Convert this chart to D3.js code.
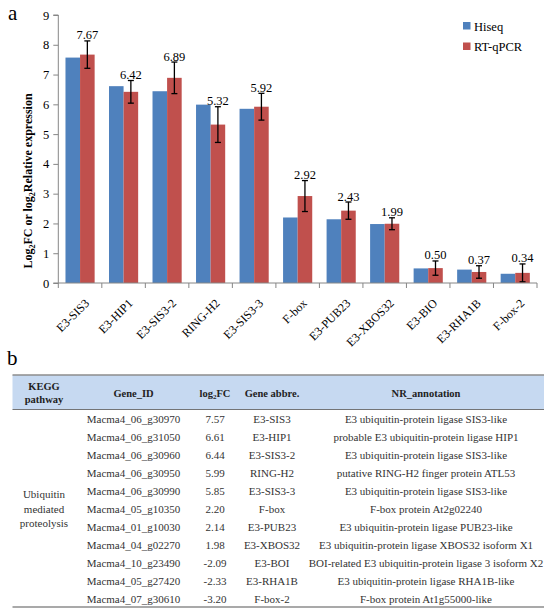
<!DOCTYPE html>
<html>
<head>
<meta charset="utf-8">
<script src="https://cdn.jsdelivr.net/npm/d3@7"></script>
<style>
body{margin:0;background:#fff;}
svg{display:block;font-family:"Liberation Serif","Times New Roman",serif;}
</style>
</head>
<body>
<svg id="c" width="550" height="609"></svg>
<script>
const categories = ["E3-SIS3","E3-HIP1","E3-SIS3-2","RING-H2","E3-SIS3-3","F-box","E3-PUB23","E3-XBOS32","E3-BIO","E3-RHA1B","F-box-2"];
const hiseq = [7.57,6.61,6.44,5.99,5.85,2.20,2.14,1.98,0.49,0.45,0.31];
const rtqpcr = [7.67,6.42,6.89,5.32,5.92,2.92,2.43,1.99,0.50,0.37,0.34];
const rtErr = [0.46,0.38,0.53,0.60,0.45,0.52,0.29,0.20,0.24,0.21,0.30];
const yTicks = [0,1,2,3,4,5,6,7,8,9];
const seriesNames = ["Hiseq","RT-qPCR"];
const colors = ["#4F81BD","#C0504D"];

const tableHeaders = ["KEGG pathway","Gene_ID","log2FC","Gene abbre.","NR_annotation"];
const pathway = ["Ubiquitin","mediated","proteolysis"];
const geneIds = ["Macma4_06_g30970","Macma4_06_g31050","Macma4_06_g30960","Macma4_06_g30950","Macma4_06_g30990","Macma4_05_g10350","Macma4_01_g10030","Macma4_04_g02270","Macma4_10_g23490","Macma4_05_g27420","Macma4_07_g30610"];
const log2fc = ["7.57","6.61","6.44","5.99","5.85","2.20","2.14","1.98","-2.09","-2.33","-3.20"];
const abbrs = ["E3-SIS3","E3-HIP1","E3-SIS3-2","RING-H2","E3-SIS3-3","F-box","E3-PUB23","E3-XBOS32","E3-BOI","E3-RHA1B","F-box-2"];
const annotations = ["E3 ubiquitin-protein ligase SIS3-like","probable E3 ubiquitin-protein ligase HIP1","E3 ubiquitin-protein ligase SIS3-like","putative RING-H2 finger protein ATL53","E3 ubiquitin-protein ligase SIS3-like","F-box protein At2g02240","E3 ubiquitin-protein ligase PUB23-like","E3 ubiquitin-protein ligase XBOS32 isoform X1","BOI-related E3 ubiquitin-protein ligase 3 isoform X2","E3 ubiquitin-protein ligase RHA1B-like","F-box protein At1g55000-like"];

(function(){
const svg = d3.select("#c");
const axisColor = "#868686";

// ---------- panel a ----------
const pL = 58.3, pR = 537, pT = 15, pB = 283;
const y = d3.scaleLinear().domain([0,9]).range([pB, pT]);
const x0 = d3.scaleBand().domain(categories).range([pL, pR]).paddingInner(0.33).paddingOuter(0.165);
const x1 = d3.scaleBand().domain(seriesNames).range([0, x0.bandwidth()]);
const step = x0.step();

svg.append("text").attr("x", 8).attr("y", 20).attr("font-size", 21).text("a");

const g = svg.append("g");
categories.forEach((c, i) => {
  [hiseq[i], rtqpcr[i]].forEach((v, s) => {
    g.append("rect")
      .attr("x", x0(c) + x1(seriesNames[s]))
      .attr("y", y(v))
      .attr("width", x1.bandwidth())
      .attr("height", y(0) - y(v))
      .attr("fill", colors[s]);
  });
});
categories.forEach((c, i) => {
  const cx = x0(c) + x1("RT-qPCR") + x1.bandwidth()/2;
  const yt = y(rtqpcr[i] + rtErr[i]), yb = y(rtqpcr[i] - rtErr[i]);
  g.append("line").attr("x1", cx).attr("x2", cx).attr("y1", yt).attr("y2", yb).attr("stroke", "#000").attr("stroke-width", 1.3);
  [yt, yb].forEach(yy => g.append("line").attr("x1", cx-3).attr("x2", cx+3).attr("y1", yy).attr("y2", yy).attr("stroke", "#000").attr("stroke-width", 1.3));
  g.append("text").attr("x", cx).attr("y", yt - 1.5).attr("text-anchor", "middle").attr("font-size", 12.5).text(d3.format(".2f")(rtqpcr[i]));
});

const yAxis = g.append("g").attr("transform", `translate(${pL},0)`)
  .call(d3.axisLeft(y).tickValues(yTicks).tickSize(5).tickPadding(4).tickFormat(d3.format("d")));
yAxis.select(".domain").attr("stroke", axisColor).attr("d", `M-5,${pT}H0V${pB}H-5`);
yAxis.selectAll(".tick line").attr("stroke", axisColor);
yAxis.selectAll(".tick text").attr("font-size", 12.5).attr("fill", "#000").attr("font-family", "Liberation Serif");

g.append("line").attr("x1", pL).attr("x2", pR).attr("y1", pB).attr("y2", pB).attr("stroke", axisColor);
d3.range(categories.length + 1).forEach(i => {
  const xx = pL + i * step;
  g.append("line").attr("x1", xx).attr("x2", xx).attr("y1", pB).attr("y2", pB + 5).attr("stroke", axisColor);
});
categories.forEach(c => {
  const cx = x0(c) + x0.bandwidth()/2;
  g.append("text").attr("transform", `translate(${cx + 7},${301}) rotate(-45)`)
    .attr("text-anchor", "end").attr("dy", "0.35em").attr("font-size", 12).text(c);
});

const ytl = svg.append("text").attr("transform", "translate(32,181) rotate(-90)")
  .attr("text-anchor", "middle").attr("font-size", 12).attr("font-weight", "bold");
ytl.append("tspan").text("Log");
ytl.append("tspan").attr("font-size", 8).attr("dy", 3).text("2");
ytl.append("tspan").attr("dy", -3).text("FC or log");
ytl.append("tspan").attr("font-size", 8).attr("dy", 3).text("2");
ytl.append("tspan").attr("dy", -3).text("Relative expression");

seriesNames.forEach((n, s) => {
  svg.append("rect").attr("x", 463).attr("y", 22 + s*20.5).attr("width", 7.5).attr("height", 7.5).attr("fill", colors[s]);
  svg.append("text").attr("x", 474).attr("y", 30.5 + s*20.5).attr("font-size", 12.5).text(n);
});

// ---------- panel b ----------
svg.append("text").attr("x", 7).attr("y", 365).attr("font-size", 21).text("b");

const tl = 12.5, tr = 544;
const hTop = 375, hBot = 409.5, rowH = 18, row0 = 419;
const colX = [44, 133.5, 215, 272, 426];
svg.append("rect").attr("x", tl).attr("y", hTop).attr("width", tr - tl).attr("height", hBot - hTop).attr("fill", "#C6D9F1");
svg.append("line").attr("x1", tl).attr("x2", tr).attr("y1", hTop).attr("y2", hTop).attr("stroke", "#8c8c8c").attr("stroke-width", 1.6);
svg.append("line").attr("x1", tl).attr("x2", tr).attr("y1", hBot).attr("y2", hBot).attr("stroke", "#666").attr("stroke-width", 0.9);

const hdr = svg.append("g").attr("font-weight", "bold").attr("font-size", 10.5).attr("text-anchor", "middle").attr("fill", "#222");
hdr.append("text").attr("x", colX[0]).attr("y", 390).text("KEGG");
hdr.append("text").attr("x", colX[0]).attr("y", 403).text("pathway");
hdr.append("text").attr("x", colX[1]).attr("y", 396.5).text(tableHeaders[1]);
const lh = hdr.append("text").attr("x", colX[2]).attr("y", 396.5);
lh.append("tspan").text("log");
lh.append("tspan").attr("font-size", 7).attr("dy", 2).text("2");
lh.append("tspan").attr("dy", -2).text("FC");
hdr.append("text").attr("x", colX[3]).attr("y", 396.5).text(tableHeaders[3]);
hdr.append("text").attr("x", colX[4]).attr("y", 396.5).text(tableHeaders[4]);

const body = svg.append("g").attr("font-size", 11).attr("text-anchor", "middle").attr("fill", "#333");
geneIds.forEach((gid, i) => {
  const yy = row0 + i * rowH + 3.8;
  body.append("text").attr("x", colX[1]).attr("y", yy).text(gid);
  body.append("text").attr("x", colX[2]).attr("y", yy).text(log2fc[i]);
  body.append("text").attr("x", colX[3]).attr("y", yy).text(abbrs[i]);
  body.append("text").attr("x", colX[4]).attr("y", yy).text(annotations[i]);
});
const midY = row0 + (geneIds.length - 1) * rowH / 2;
pathway.forEach((p, k) => {
  body.append("text").attr("x", colX[0]).attr("y", midY + (k - 1) * 14.5 + 3.8).text(p);
});
svg.append("line").attr("x1", tl).attr("x2", tr).attr("y1", 607).attr("y2", 607).attr("stroke", "#8c8c8c").attr("stroke-width", 1.6);
})();
</script>
</body>
</html>
